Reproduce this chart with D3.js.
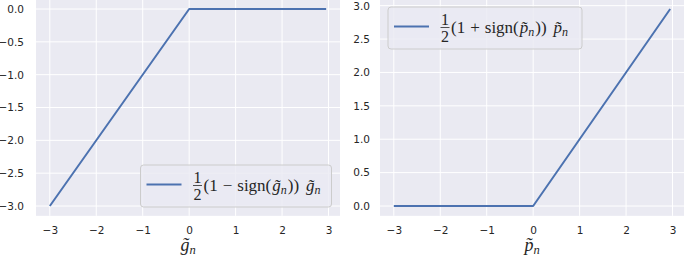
<!DOCTYPE html>
<html>
<head>
<meta charset="utf-8">
<script src="https://cdn.jsdelivr.net/npm/d3@7"></script>
<style>
  html, body { margin: 0; padding: 0; background: #fff; }
  svg { display: block; }
</style>
</head>
<body>
<svg id="chart" width="685" height="257"></svg>
<script>
// Breakpoints of the two piecewise linear curves
const gInput = [-3, 0, 2.95];
const gOutput = [-3, 0, 0];
const pInput = [-3, 0, 2.95];
const pOutput = [0, 0, 2.95];

const xTicks = [-3, -2, -1, 0, 1, 2, 3];
const yTicksLeft = [0, -0.5, -1, -1.5, -2, -2.5, -3];
const yTicksRight = [0, 0.5, 1, 1.5, 2, 2.5, 3];

const line_color = '#4c72b0';
const bg_color = '#eaeaf2';
const tick_color = '#262626';
const tick_font = 'DejaVu Sans';
const math_font = 'Liberation Serif';

const svg = d3.select('#chart');

function drawPanel({ left, xs, ys, xDomain, yDomain, yTicks, tickPad, legend, symbol, sign }) {
  const width = 304;
  const top = -0.85, bottom = 215.85;

  const x = d3.scaleLinear().domain(xDomain).range([left, left + width]);
  const y = d3.scaleLinear().domain(yDomain).range([bottom, top]);

  const g = svg.append('g');

  // Background
  g.append('rect')
    .attr('x', left).attr('y', top)
    .attr('width', width).attr('height', bottom - top)
    .attr('fill', bg_color);

  // Grid
  g.selectAll('.vgrid').data(xTicks).join('line')
    .attr('x1', d => x(d)).attr('x2', d => x(d))
    .attr('y1', top).attr('y2', bottom)
    .attr('stroke', '#fff').attr('stroke-width', 1);
  g.selectAll('.hgrid').data(yTicks).join('line')
    .attr('y1', d => y(d)).attr('y2', d => y(d))
    .attr('x1', left).attr('x2', left + width)
    .attr('stroke', '#fff').attr('stroke-width', 1);

  // Axes (labels only)
  const xAxis = g.append('g')
    .attr('transform', `translate(0,${bottom})`)
    .call(d3.axisBottom(x).tickValues(xTicks).tickSize(0).tickPadding(11).tickFormat(d3.format('d')));
  const yAxis = g.append('g')
    .attr('transform', `translate(${left},0)`)
    .call(d3.axisLeft(y).tickValues(yTicks).tickSize(0).tickPadding(tickPad).tickFormat(d3.format('.1f')));

  [xAxis, yAxis].forEach(a => {
    a.select('.domain').remove();
    a.selectAll('text')
      .attr('fill', tick_color)
      .style('font-family', tick_font)
      .style('font-size', '10.5px');
  });

  // Curve
  const pts = xs.map((v, i) => [v, ys[i]]);
  g.append('path')
    .datum(pts)
    .attr('fill', 'none')
    .attr('stroke', line_color)
    .attr('stroke-width', 2)
    .attr('stroke-linejoin', 'round')
    .attr('d', d3.line().x(d => x(d[0])).y(d => y(d[1])));

  // x label
  const xl = g.append('text')
    .attr('x', left + width / 2)
    .attr('y', 251)
    .attr('text-anchor', 'middle')
    .attr('fill', tick_color)
    .style('font-family', math_font)
    .style('font-size', '18px');
  xl.append('tspan').style('font-style', 'italic').text(symbol + '\u0303');
  xl.append('tspan').style('font-style', 'italic').style('font-size', '12.5px').attr('dy', 3).text('n');

  // Legend
  const lg = g.append('g').attr('transform', `translate(${legend.x},${legend.y})`);
  lg.append('rect')
    .attr('x', 0).attr('y', 0)
    .attr('width', legend.w).attr('height', 42)
    .attr('rx', 3)
    .attr('fill', bg_color).attr('fill-opacity', 0.8)
    .attr('stroke', '#cccccc').attr('stroke-width', 1);
  lg.append('line')
    .attr('x1', 6).attr('x2', 41)
    .attr('y1', 19.5).attr('y2', 19.5)
    .attr('stroke', line_color).attr('stroke-width', 2);

  // 1/2 fraction
  const fx = 57;
  lg.append('text').attr('x', fx).attr('y', 17.5).attr('text-anchor', 'middle')
    .attr('fill', tick_color).style('font-family', math_font).style('font-size', '16px').text('1');
  lg.append('line').attr('x1', fx - 4.5).attr('x2', fx + 4.5).attr('y1', 20.5).attr('y2', 20.5)
    .attr('stroke', tick_color).attr('stroke-width', 0.8);
  lg.append('text').attr('x', fx).attr('y', 34.5).attr('text-anchor', 'middle')
    .attr('fill', tick_color).style('font-family', math_font).style('font-size', '16px').text('2');

  const t = lg.append('text')
    .attr('x', fx + 6).attr('y', 26)
    .attr('fill', tick_color)
    .style('font-family', math_font)
    .style('font-size', '17px');
  t.append('tspan').text('(1');
  t.append('tspan').attr('dx', 5).text(sign);
  t.append('tspan').attr('dx', 5).text('sign(');
  t.append('tspan').attr('dx', 1).style('font-style', 'italic').text(symbol + '\u0303');
  t.append('tspan').style('font-style', 'italic').style('font-size', '12px').attr('dy', 3).text('n');
  t.append('tspan').attr('dx', 1).attr('dy', -3).text('))');
  t.append('tspan').attr('dx', 7).style('font-style', 'italic').text(symbol + '\u0303');
  t.append('tspan').style('font-style', 'italic').style('font-size', '12px').attr('dy', 3).text('n');
}

drawPanel({
  left: 36, xs: gInput, ys: gOutput,
  xDomain: [-3.2975, 3.2475], yDomain: [-3.15, 0.15],
  yTicks: yTicksLeft, tickPad: 12,
  legend: { x: 140.5, y: 165, w: 191 },
  symbol: 'g', sign: '\u2212'
});

drawPanel({
  left: 380, xs: pInput, ys: pOutput,
  xDomain: [-3.2975, 3.2475], yDomain: [-0.1475, 3.0975],
  yTicks: yTicksRight, tickPad: 10,
  legend: { x: 388, y: 7, w: 194 },
  symbol: 'p', sign: '+'
});
</script>
</body>
</html>
